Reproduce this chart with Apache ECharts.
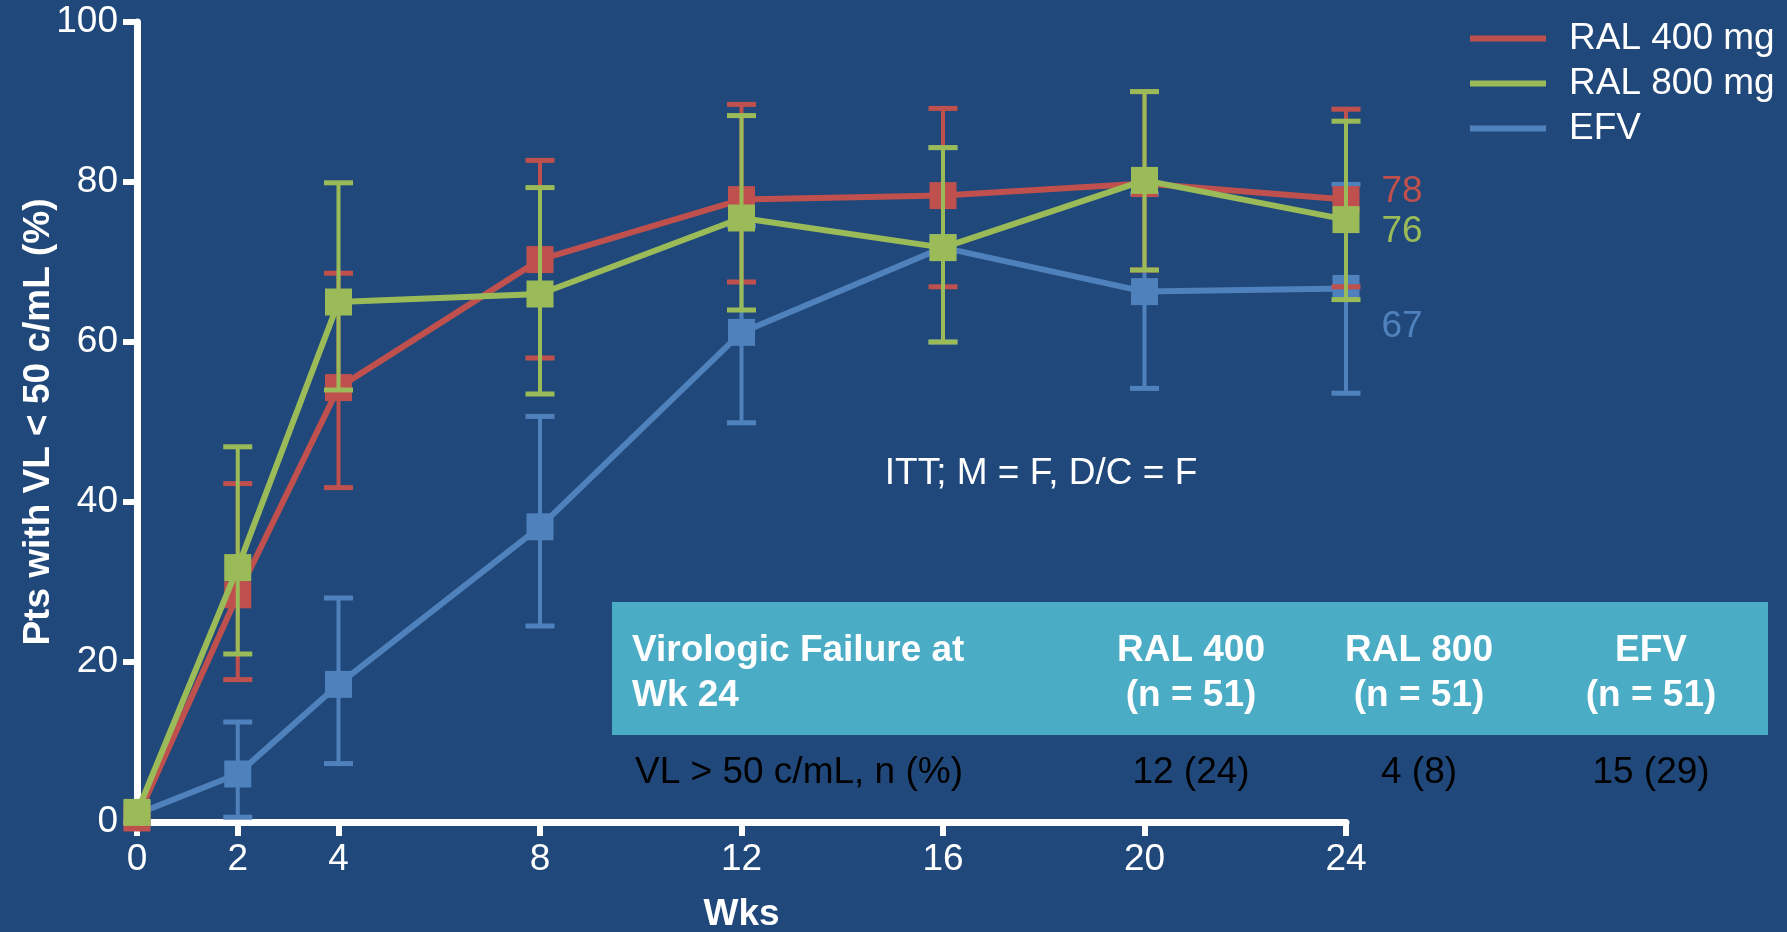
<!DOCTYPE html>
<html>
<head>
<meta charset="utf-8">
<script src="https://cdn.jsdelivr.net/npm/echarts@6/dist/echarts.min.js"></script>
<style>
  html, body { margin: 0; padding: 0; background: #20487A; }
  #chart { width: 1787px; height: 932px; }
</style>
</head>
<body>
<div id="chart"></div>
<script>
// ---- Data ----
const weeks = [0, 2, 4, 8, 12, 16, 20, 24];
const xTickLabels = [0, 2, 4, 8, 12, 16, 20, 24];
const yTickLabels = [0, 20, 40, 60, 80, 100];

const seriesNames = ['RAL 400 mg', 'RAL 800 mg', 'EFV'];

const ral400 = [0.5, 28.4, 54.3, 70.3, 77.8, 78.3, 79.8, 77.8];
const ral400Low = [null, 17.8, 41.8, 58.0, 67.5, 66.9, 69.0, 66.9];
const ral400High = [null, 42.3, 68.6, 82.7, 89.7, 89.2, 91.3, 89.1];

const ral800 = [1.2, 31.8, 65.0, 66.0, 75.5, 71.8, 80.2, 75.3];
const ral800Low = [null, 21.0, 54.0, 53.5, 64.0, 60.0, 69.0, 65.3];
const ral800High = [null, 46.9, 79.9, 79.3, 88.3, 84.3, 91.3, 87.6];

const efv = [1.0, 6.0, 17.2, 36.9, 61.2, 71.8, 66.3, 66.7];
const efvLow = [null, 0.6, 7.3, 24.5, 49.9, 60.0, 54.2, 53.6];
const efvHigh = [null, 12.5, 28.0, 50.7, 74.5, 84.3, 78.5, 79.7];

const endLabels = ['78', '76', '67'];

const annotation = 'ITT; M = F, D/C = F';
const tableHeaderLines = ['Virologic Failure at', 'Wk 24'];
const tableColumns = ['RAL 400', 'RAL 800', 'EFV'];
const tableColumnN = ['(n = 51)', '(n = 51)', '(n = 51)'];
const tableRowLabel = 'VL > 50 c/mL, n (%)';
const tableRowValues = ['12 (24)', '4 (8)', '15 (29)'];

// ---- Styles ----
const FONT = "'Liberation Sans', Arial, Helvetica, sans-serif";
const BG = '#20487A';
const COLORS = ['#C0504D', '#9BBB59', '#4F81BD'];
const TEAL = '#4BACC6';
const FS = 37;

const chart = echarts.init(document.getElementById('chart'), null, { renderer: 'canvas' });

function pts(vals, labelIdx, labelOffsetY, color) {
  return weeks.map((w, i) => {
    if (i === weeks.length - 1) {
      return {
        value: [w, vals[i]],
        label: {
          show: true, formatter: endLabels[labelIdx], position: 'right', distance: 22,
          offset: [0, labelOffsetY], color: color, fontSize: FS, fontFamily: FONT
        }
      };
    }
    return [w, vals[i]];
  });
}
function errs(lo, hi) {
  const out = [];
  weeks.forEach((w, i) => { if (lo[i] != null) out.push([w, lo[i], hi[i]]); });
  return out;
}
function errSeries(name, color, data, z) {
  return {
    type: 'custom', name: name + ' err', z: z, silent: true,
    encode: { x: 0, y: [1, 2] },
    data: data,
    renderItem: function (params, api) {
      const x = api.value(0);
      const top = api.coord([x, api.value(2)]);
      const bot = api.coord([x, api.value(1)]);
      const hw = 14.5;
      const st = { stroke: color, lineWidth: 4 };
      const cap = { stroke: color, lineWidth: 5 };
      return {
        type: 'group', children: [
          { type: 'line', shape: { x1: top[0], y1: top[1], x2: bot[0], y2: bot[1] }, style: st },
          { type: 'line', shape: { x1: top[0] - hw, y1: top[1], x2: top[0] + hw, y2: top[1] }, style: cap },
          { type: 'line', shape: { x1: bot[0] - hw, y1: bot[1], x2: bot[0] + hw, y2: bot[1] }, style: cap }
        ]
      };
    }
  };
}
function lineSeries(name, color, data, z) {
  return {
    type: 'line', name: name, z: z, data: data,
    symbol: 'rect', symbolSize: 27, showAllSymbol: true,
    lineStyle: { color: color, width: 6 },
    itemStyle: { color: color },
    emphasis: { disabled: true },
    animation: false
  };
}

const textBase = { fontFamily: FONT, fontSize: FS };
const graphic = [
  { type: 'rect', left: 612, top: 602, shape: { width: 1156, height: 133 }, style: { fill: TEAL }, z: 0 },
  { type: 'text', x: 632, y: 651, style: Object.assign({ text: tableHeaderLines[0], fill: '#fff', fontWeight: 'bold', textVerticalAlign: 'middle', textAlign: 'left' }, textBase) },
  { type: 'text', x: 632, y: 696, style: Object.assign({ text: tableHeaderLines[1], fill: '#fff', fontWeight: 'bold', textVerticalAlign: 'middle', textAlign: 'left' }, textBase) },
  { type: 'text', x: 635, y: 773, style: Object.assign({ text: tableRowLabel, fill: '#000', textVerticalAlign: 'middle', textAlign: 'left' }, textBase) },
  { type: 'text', x: 1041, y: 474, style: Object.assign({ text: annotation, fill: '#fff', textVerticalAlign: 'middle', textAlign: 'center' }, textBase) }
];
const colX = [1191, 1419, 1651];
tableColumns.forEach((c, i) => {
  graphic.push({ type: 'text', x: colX[i], y: 651, style: Object.assign({ text: c, fill: '#fff', fontWeight: 'bold', textVerticalAlign: 'middle', textAlign: 'center' }, textBase) });
  graphic.push({ type: 'text', x: colX[i], y: 696, style: Object.assign({ text: tableColumnN[i], fill: '#fff', fontWeight: 'bold', textVerticalAlign: 'middle', textAlign: 'center' }, textBase) });
  graphic.push({ type: 'text', x: colX[i], y: 773, style: Object.assign({ text: tableRowValues[i], fill: '#000', textVerticalAlign: 'middle', textAlign: 'center' }, textBase) });
});

const option = {
  backgroundColor: BG,
  animation: false,
  textStyle: { fontFamily: FONT },
  grid: { left: 137, right: 441, top: 22, bottom: 110, containLabel: false, outerBoundsMode: 'none' },
  legend: {
    orient: 'vertical', left: 1470, top: 20, padding: 0,
    data: seriesNames,
    icon: 'rect', itemWidth: 76, itemHeight: 6, itemGap: 8,
    textStyle: { color: '#fff', fontSize: FS, fontFamily: FONT, lineHeight: 36, padding: [0, 0, 0, 18] },
    selectedMode: false
  },
  xAxis: {
    type: 'value', min: 0, max: 24,
    name: 'Wks', nameLocation: 'middle', nameGap: 74, nameMoveOverlap: false,
    nameTextStyle: { color: '#fff', fontSize: FS, fontWeight: 'bold', fontFamily: FONT },
    axisLine: { show: true, onZero: false, lineStyle: { color: '#fff', width: 7 } },
    axisTick: { show: true, length: 14, lineStyle: { color: '#fff', width: 6 }, customValues: xTickLabels },
    axisLabel: { color: '#fff', fontSize: FS, fontFamily: FONT, margin: 19, customValues: xTickLabels },
    splitLine: { show: false }
  },
  yAxis: {
    type: 'value', min: 0, max: 100, interval: 20,
    name: 'Pts with VL < 50 c/mL (%)', nameLocation: 'middle', nameGap: 80, nameMoveOverlap: false,
    nameTextStyle: { color: '#fff', fontSize: FS, fontWeight: 'bold', fontFamily: FONT },
    axisLine: { show: true, lineStyle: { color: '#fff', width: 7 } },
    axisTick: { show: true, length: 14, lineStyle: { color: '#fff', width: 6 } },
    axisLabel: { color: '#fff', fontSize: FS, fontFamily: FONT, margin: 19, formatter: v => String(v) },
    splitLine: { show: false }
  },
  series: [
    errSeries(seriesNames[2], COLORS[2], errs(efvLow, efvHigh), 1),
    lineSeries(seriesNames[2], COLORS[2], pts(efv, 2, 38, COLORS[2]), 2),
    errSeries(seriesNames[0], COLORS[0], errs(ral400Low, ral400High), 3),
    lineSeries(seriesNames[0], COLORS[0], pts(ral400, 0, -8, COLORS[0]), 4),
    errSeries(seriesNames[1], COLORS[1], errs(ral800Low, ral800High), 5),
    lineSeries(seriesNames[1], COLORS[1], pts(ral800, 1, 12, COLORS[1]), 6)
  ],
  graphic: graphic
};
chart.setOption(option);
</script>
</body>
</html>
